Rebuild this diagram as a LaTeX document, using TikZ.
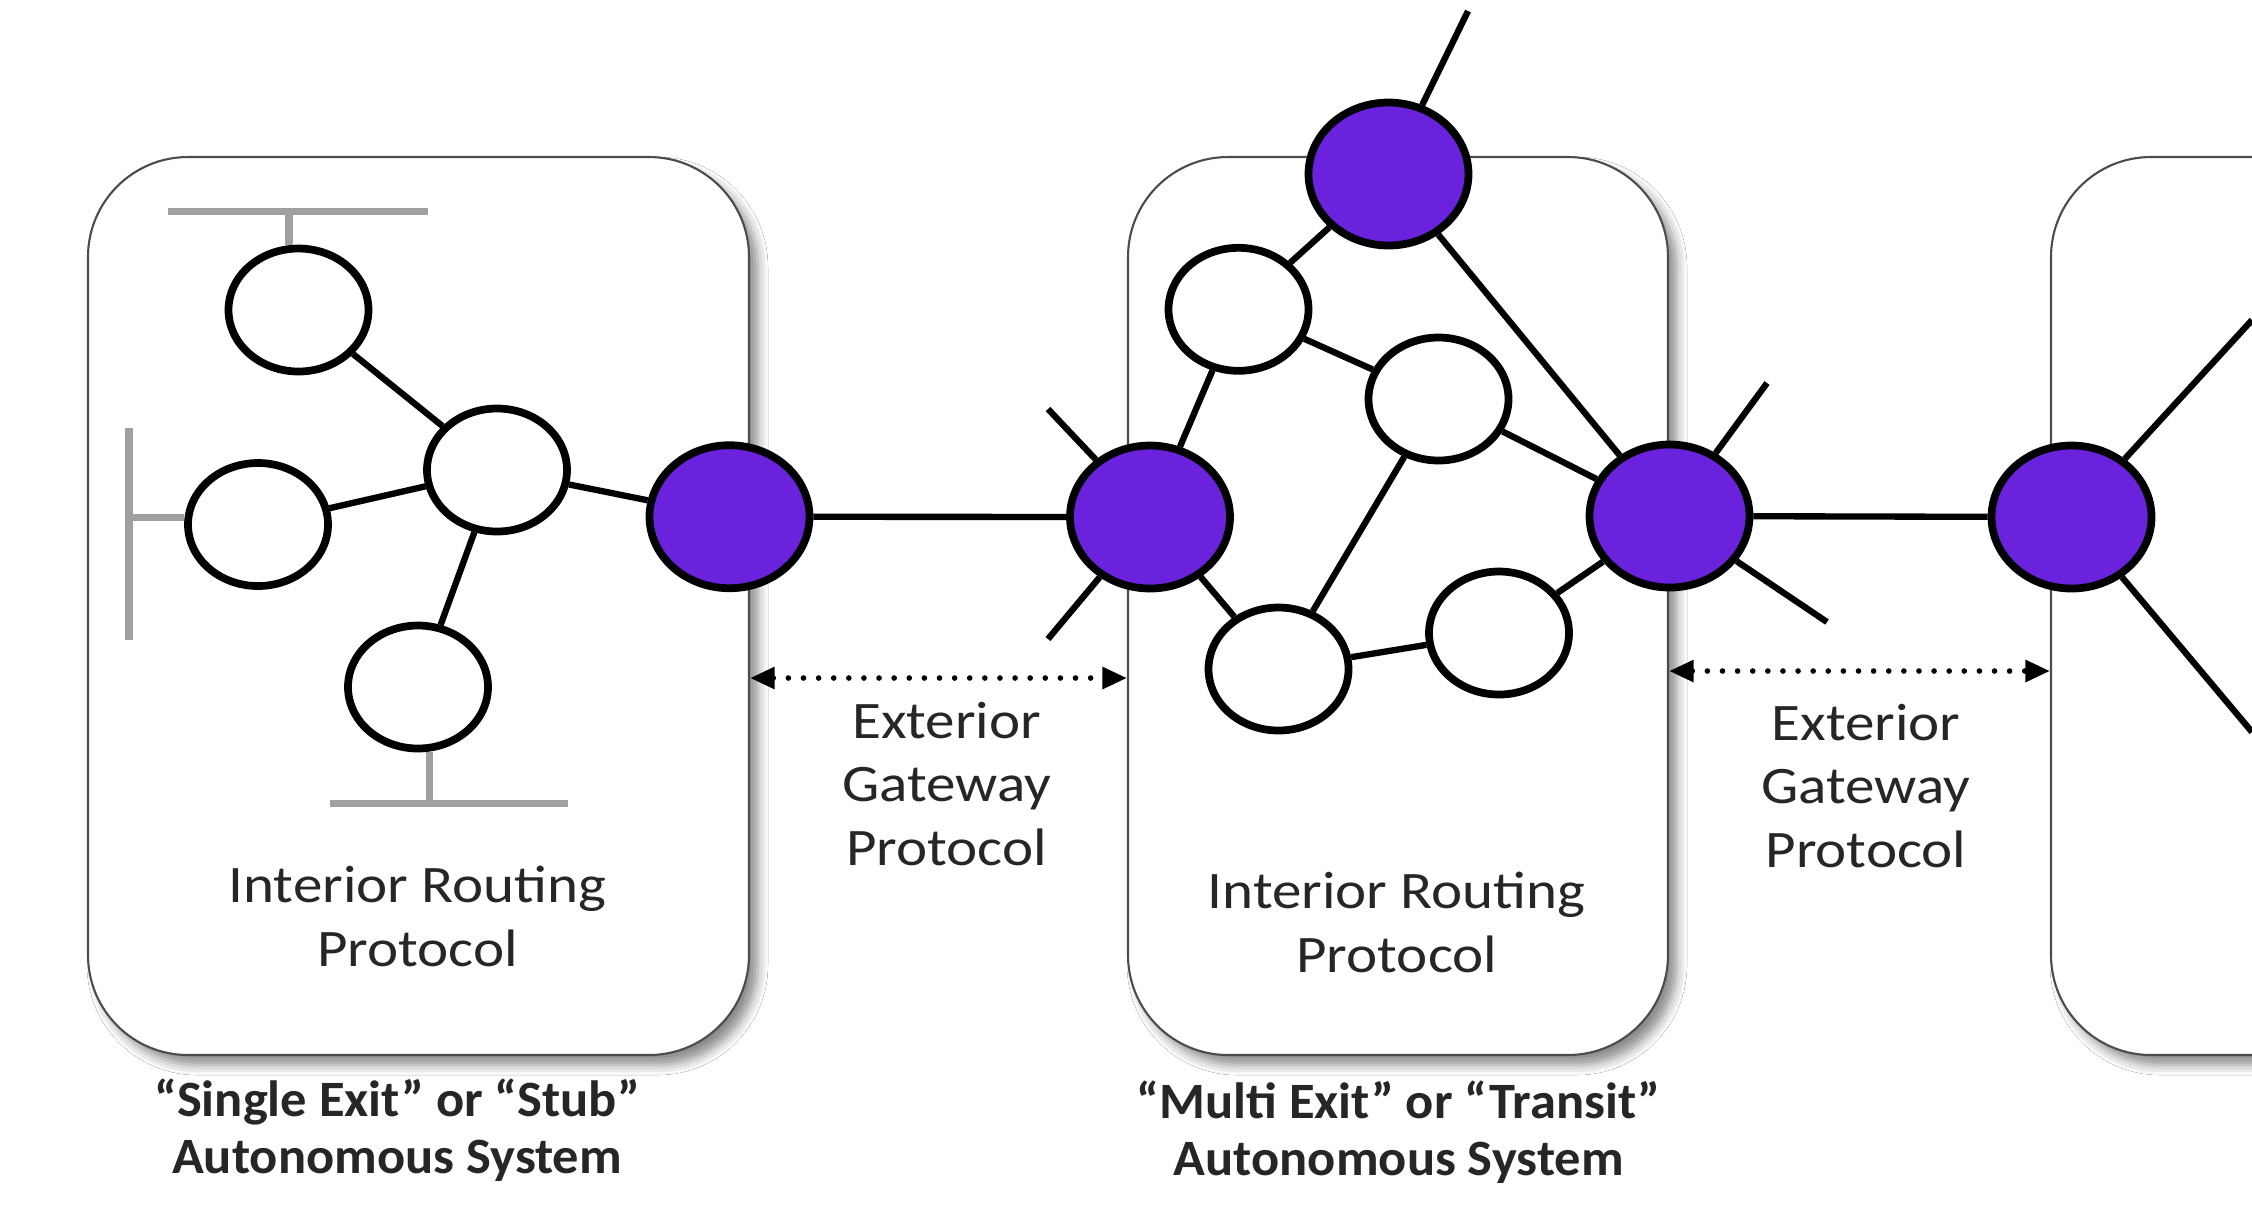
\documentclass[tikz,border=0pt]{standalone}
\usepackage{fontspec}
\setmainfont{Carlito}[FakeStretch=1.12, BoldFeatures={FakeStretch=1.03}]
\usetikzlibrary{arrows.meta,shapes.geometric,shadows.blur}

\definecolor{asviolet}{RGB}{106,34,220}
\definecolor{lanGray}{RGB}{160,160,160}

\tikzset{
  asbox/.style={draw=black!70, line width=0.6pt, fill=white, rounded corners=1cm,
    minimum height=8.98cm,
    blur shadow={shadow xshift=0.09cm, shadow yshift=-0.1cm, shadow blur radius=0.1cm, shadow opacity=45}},
  router/.style={ellipse, draw=black, line width=2.2pt, fill=white,
    minimum width=1.40cm, minimum height=1.23cm, inner sep=0pt},
  gateway/.style={router, fill=asviolet, minimum width=1.60cm, minimum height=1.43cm},
  link/.style={line width=1.8pt},
  lan/.style={draw=lanGray, line width=2pt},
  egp/.style={line width=1.6pt, dash pattern=on 0pt off 4.3pt, line cap=round,
    {Triangle[length=7pt,width=6pt]}-{Triangle[length=7pt,width=6pt]}},
  lbl/.style={align=center, inner sep=0pt, text=black!85, font=\fontsize{15}{18}\selectfont},
  asname/.style={lbl, font=\fontsize{14.5}{16.2}\selectfont\bfseries}
}

\begin{document}
\begin{tikzpicture}[x=1cm, y=-1cm]
  \useasboundingbox (0,0) rectangle (22.52,12.08);
  \clip (0,0) rectangle (22.52,12.08);
  \fill[white] (0,0) rectangle (22.52,12.08);

  % autonomous systems
  \node[asbox, minimum width=6.61cm] (AS1) at (4.185,6.06) {};
  \node[asbox, minimum width=5.40cm] (AS2) at (13.98,6.06) {};
  \node[asbox, minimum width=5.60cm] (AS3) at (23.31,6.06) {};

  % stub AS
  \node[router] (W1) at (2.985,3.10) {};
  \node[router] (W2) at (2.58,5.245) {};
  \node[router] (W3) at (4.97,4.70) {};
  \node[router] (W4) at (4.18,6.87) {};
  \node[gateway] (P1) at (7.295,5.167) {};

  % transit AS
  \node[gateway] (P2) at (11.50,5.17) {};
  \node[gateway] (P3) at (13.885,1.74) {};
  \node[gateway] (P4) at (16.695,5.16) {};
  \node[router] (W5) at (12.385,3.093) {};
  \node[router] (W6) at (14.385,3.99) {};
  \node[router] (W7) at (12.785,6.69) {};
  \node[router] (W8) at (14.99,6.33) {};

  % next AS
  \node[gateway] (P5) at (20.715,5.17) {};

  % loose ends
  \coordinate (P3up) at (14.68,0.11);
  \coordinate (P2ul) at (10.48,4.09);
  \coordinate (P2ll) at (10.48,6.39);
  \coordinate (P4ur) at (17.67,3.83);
  \coordinate (P4lr) at (18.27,6.22);
  \coordinate (P5ur) at (22.52,3.20);
  \coordinate (P5lr) at (22.52,7.32);

  \draw[link] (W1) -- (W3) (W2) -- (W3) (W4) -- (W3) (W3) -- (P1);
  \draw[link] (P1) -- (P2) (P4) -- (P5);
  \draw[link] (P2) -- (W5) (W5) -- (P3) (W5) -- (W6) (W6) -- (P4) (W6) -- (W7)
    (P2) -- (W7) (W7) -- (W8) (W8) -- (P4) (P3) -- (P4);
  \draw[link] (P3) -- (P3up) (P2) -- (P2ul) (P2) -- (P2ll)
    (P4) -- (P4ur) (P4) -- (P4lr) (P5) -- (P5ur) (P5) -- (P5lr);

  % LAN segments
  \coordinate (lanT) at (2.89,2.11);
  \coordinate (lanL) at (1.29,5.17);
  \coordinate (lanB) at (4.295,8.035);
  \draw[lan] (1.68,2.11) -- (4.28,2.11);
  \draw[lan] (lanT) -- (lanT |- W1.north);
  \draw[lan] (1.29,4.28) -- (1.29,6.40);
  \draw[lan] (lanL) -- (lanL -| W2.west);
  \draw[lan] (3.30,8.035) -- (5.68,8.035);
  \draw[lan] (lanB) -- (lanB |- W4.south);

  % exterior gateway protocol
  \draw[egp] (AS1.east |- 0,6.78) -- (AS2.west |- 0,6.78);
  \draw[egp] (AS2.east |- 0,6.71) -- (AS3.west |- 0,6.71);

  % labels
  \node[lbl] (egp1) at (9.467,7.84) {Exterior\\Gateway\\Protocol};
  \node[lbl] (egp2) at (18.66,7.86) {Exterior\\Gateway\\Protocol};
  \node[lbl] (irp1) at (4.175,9.165) {Interior Routing\\Protocol};
  \node[lbl] (irp2) at (13.967,9.225) {Interior Routing\\Protocol};
  \node[asname] (name1) at (3.97,11.305) {“Single Exit” or “Stub”\\Autonomous System};
  \node[asname] (name2) at (13.986,11.32) {“Multi Exit” or “Transit”\\Autonomous System};
\end{tikzpicture}
\end{document}
